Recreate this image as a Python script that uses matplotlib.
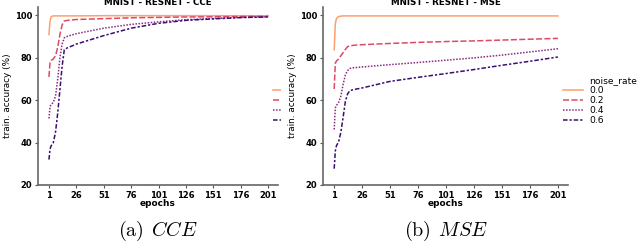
import matplotlib
matplotlib.use("Agg")
import matplotlib.pyplot as plt
from matplotlib.lines import Line2D
from matplotlib.patches import Rectangle

plt.rcParams['mathtext.fontset'] = 'cm'
plt.rcParams['font.family'] = ['DejaVu Sans']

epochs = [1, 2, 3, 5, 7, 9, 11, 13, 15, 18, 22, 26, 51, 76, 101, 126, 151, 176, 201]
noise_rates = ["0.0", "0.2", "0.4", "0.6"]

cce_00 = [91, 97.5, 99.5, 99.8, 99.8, 99.8, 99.8, 99.8, 99.8, 99.8, 99.8, 99.8, 99.9, 99.9, 99.9, 99.9, 99.9, 99.9, 99.9]
cce_02 = [71, 78, 78.8, 79.5, 81, 85, 91, 95.5, 97.4, 97.7, 97.9, 98.1, 98.5, 98.9, 99.1, 99.3, 99.4, 99.5, 99.6]
cce_04 = [51.4, 57, 58, 59, 62, 70, 80, 86.5, 89.5, 90.2, 90.8, 91.4, 94, 95.8, 97, 98, 98.6, 99.1, 99.4]
cce_06 = [32, 37, 38.5, 40, 45, 54, 65, 76, 83.8, 84.8, 85.6, 86.5, 90.5, 94, 96.3, 97.7, 98.4, 99, 99.3]

mse_00 = [83.8, 96, 98.5, 99.5, 99.7, 99.8, 99.8, 99.8, 99.8, 99.8, 99.8, 99.8, 99.8, 99.8, 99.8, 99.8, 99.8, 99.8, 99.8]
mse_02 = [65.3, 77.5, 78.5, 79.5, 81, 82.5, 84, 85.3, 85.7, 85.9, 86.1, 86.2, 86.8, 87.3, 87.7, 88.0, 88.4, 88.8, 89.2]
mse_04 = [46.2, 56.4, 57.5, 59, 62, 67.5, 72, 74, 75, 75.3, 75.5, 75.7, 76.8, 77.8, 78.9, 80, 81.3, 82.8, 84.3]
mse_06 = [27.7, 36, 38.5, 40.5, 45, 52, 59.5, 63, 64.5, 65, 65.4, 65.8, 68.9, 70.8, 72.6, 74.5, 76.5, 78.4, 80.4]

xticks = [1, 26, 51, 76, 101, 126, 151, 176, 201]
yticks = [20, 40, 60, 80, 100]

colors = ['#fe9f6d', '#de4968', '#8c2981', '#3b0f70']
dashes = [None, (4, 1.5), (1, 1), (3, 1.25, 1.5, 1.25)]

W, H = 640, 244
fig = plt.figure(figsize=(W / 100, H / 100), dpi=100)

def px_axes(x0, x1, y0, y1):
    return [x0 / W, 1 - y1 / H, (x1 - x0) / W, (y1 - y0) / H]

axL = fig.add_axes(px_axes(38, 278, 7, 185))
axR = fig.add_axes(px_axes(323, 568, 7, 185))
axL.set_zorder(0)
axR.set_zorder(2)

panels = [
    (axL, "MNIST - RESNET - CCE", [cce_00, cce_02, cce_04, cce_06], r"$\mathrm{(a)}\;\,CCE$"),
    (axR, "MNIST - RESNET - MSE", [mse_00, mse_02, mse_04, mse_06], r"$\mathrm{(b)}\;\,MSE$"),
]

fs = 6.0
for ax, title, series, caption in panels:
    lines = []
    for vals, c, d, lab in zip(series, colors, dashes, noise_rates):
        ln, = ax.plot(epochs, vals, color=c, lw=1.1, label=lab)
        if d is not None:
            ln.set_dashes(d)
        lines.append(ln)
    ax.set_xlim(-9, 210)
    ax.set_ylim(20, 104)
    ax.set_xticks(xticks)
    ax.set_yticks(yticks)
    ax.tick_params(labelsize=fs, length=2.5, width=0.8, color='#555555', pad=1.5)
    for lab in ax.get_xticklabels() + ax.get_yticklabels():
        lab.set_fontweight('bold')
    for s in ['top', 'right']:
        ax.spines[s].set_visible(False)
    for s in ['left', 'bottom']:
        ax.spines[s].set_color('#666666')
        ax.spines[s].set_linewidth(1.2)
    ax.set_xlabel("epochs", fontsize=6.5, labelpad=-0.5, fontweight='bold')
    ax.set_ylabel("train. accuracy (%)", fontsize=6.4, labelpad=2)
    ax.set_title(title, fontsize=6.3, pad=1.5, fontweight='bold')
    blank = Line2D([], [], linestyle='none')
    leg = ax.legend([blank] + lines, ["noise_rate"] + noise_rates,
                    loc='upper left', frameon=False, fontsize=6.6,
                    handlelength=2.2, handletextpad=0.7, labelspacing=0.1,
                    borderaxespad=0, borderpad=0,
                    bbox_to_anchor=(1.0 - 5.5 / 245, 1 - (76.5 - 7) / 178))
    cx = ax.get_position().x0 + ax.get_position().width / 2
    fig.text(cx, 1 - 231 / H, caption, ha='center', va='center', fontsize=14.5)

fig.patches.append(Rectangle((281 / W, 0), (330 - 281) / W, 1, transform=fig.transFigure,
                             facecolor='white', edgecolor='none', zorder=1))

fig.savefig("out.png", dpi=100)
